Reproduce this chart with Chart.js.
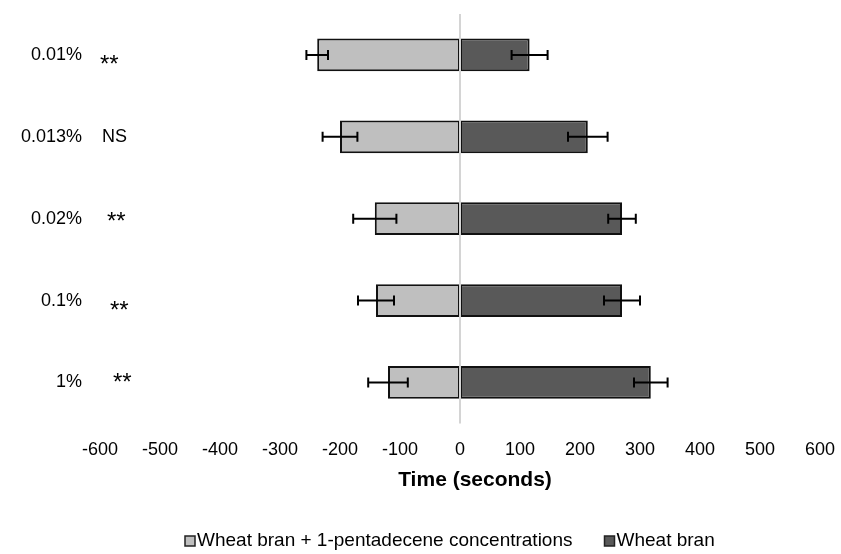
<!DOCTYPE html>
<html>
<head>
<meta charset="utf-8">
<script src="https://cdn.jsdelivr.net/npm/chart.js@4.4.1/dist/chart.umd.min.js"></script>
<style>
    html, body { margin: 0; padding: 0; background: #fff; }
    #wrap { width: 841px; height: 554px; }
</style>
</head>
<body>
<div id="wrap"><canvas id="chart"></canvas></div>
<script>
const categories = ['0.01%', '0.013%', '0.02%', '0.1%', '1%'];
const significance = ['**', 'NS', '**', '**', '**'];

const treatedLabel = 'Wheat bran + 1-pentadecene concentrations';
const treatedValues = [-238, -200, -142, -140, -120];
const treatedErrors = [18, 29, 36, 30, 33];

const controlLabel = 'Wheat bran';
const controlValues = [116, 213, 270, 270, 318];
const controlErrors = [30, 33, 23, 30, 28];

const xTicks = [-600, -500, -400, -300, -200, -100, 0, 100, 200, 300, 400, 500, 600];
const xTitle = 'Time (seconds)';

const FONT = "'Liberation Sans', Arial, sans-serif";

// error bars drawn on top of each bar end
const errorBars = {
    id: 'errorBars',
    afterDatasetsDraw(chart) {
        const { ctx, scales: { x } } = chart;
        ctx.save();
        ctx.strokeStyle = '#000';
        ctx.lineWidth = 2;
        chart.data.datasets.forEach((ds, i) => {
            const meta = chart.getDatasetMeta(i);
            meta.data.forEach((bar, j) => {
                const v = ds.data[j];
                const e = ds.errors[j];
                const x1 = x.getPixelForValue(v - e);
                const x2 = x.getPixelForValue(v + e);
                const y = bar.y;
                ctx.beginPath();
                ctx.moveTo(x1, y); ctx.lineTo(x2, y);
                ctx.moveTo(x1, y - 5); ctx.lineTo(x1, y + 5);
                ctx.moveTo(x2, y - 5); ctx.lineTo(x2, y + 5);
                ctx.stroke();
            });
        });
        ctx.restore();
    }
};

// zero line over the bars, significance marks, axis title and legend
const extras = {
    id: 'extras',
    afterDraw(chart) {
        const { ctx, chartArea, scales: { x, y } } = chart;
        ctx.save();

        const x0 = x.getPixelForValue(0);
        ctx.strokeStyle = '#d4d4d4';
        ctx.lineWidth = 2;
        ctx.beginPath();
        ctx.moveTo(x0, chartArea.top);
        ctx.lineTo(x0, chartArea.bottom);
        ctx.stroke();

        const dx = [0, 2, 7, 10, 13];
        const dy = [10, 0, 4, 11, 1];
        ctx.fillStyle = '#000';
        ctx.textAlign = 'left';
        ctx.textBaseline = 'middle';
        significance.forEach((s, i) => {
            ctx.font = (s === '**' ? '24px ' : '18px ') + FONT;
            ctx.fillText(s, chartArea.left + dx[i], y.getPixelForValue(i) + dy[i]);
        });

        ctx.font = 'bold 21px ' + FONT;
        ctx.textAlign = 'center';
        ctx.fillText(xTitle, x0 + 15, 480);

        ctx.font = '19px ' + FONT;
        ctx.textAlign = 'left';
        let lx = 185;
        const ly = 541;
        chart.data.datasets.forEach((ds) => {
            ctx.fillStyle = ds.backgroundColor;
            ctx.fillRect(lx, ly - 5, 10, 10);
            ctx.strokeStyle = '#222';
            ctx.lineWidth = 1.5;
            ctx.strokeRect(lx, ly - 5, 10, 10);
            ctx.fillStyle = '#000';
            ctx.fillText(ds.label, lx + 12, ly);
            lx += 12 + ctx.measureText(ds.label).width + 32;
        });
        ctx.restore();
    }
};

new Chart(document.getElementById('chart'), {
    type: 'bar',
    data: {
        labels: categories,
        datasets: [
            {
                label: treatedLabel,
                data: treatedValues,
                errors: treatedErrors,
                backgroundColor: '#bfbfbf',
                borderColor: '#111',
                borderWidth: 2,
                borderSkipped: false,
            },
            {
                label: controlLabel,
                data: controlValues,
                errors: controlErrors,
                backgroundColor: '#595959',
                borderColor: '#111',
                borderWidth: 2,
                borderSkipped: false,
            },
        ],
    },
    options: {
        indexAxis: 'y',
        responsive: true,
        maintainAspectRatio: false,
        animation: false,
        categoryPercentage: 0.8,
        barPercentage: 0.5,
        layout: { padding: { top: 14, right: 21, bottom: 77, left: 0 } },
        plugins: {
            legend: { display: false },
            tooltip: { enabled: false },
        },
        scales: {
            x: {
                stacked: true,
                min: -600,
                max: 600,
                afterBuildTicks: (scale) => { scale.ticks = xTicks.map(v => ({ value: v })); },
                afterFit: (scale) => { scale.paddingLeft = 0; scale.paddingRight = 0; },
                grid: { display: false, drawTicks: false },
                border: { display: false },
                ticks: {
                    color: '#000',
                    padding: 16,
                    maxRotation: 0,
                    autoSkip: false,
                    font: { family: FONT, size: 18 },
                },
            },
            y: {
                stacked: true,
                afterFit: (scale) => {
                    scale.width = 100;
                    scale.paddingTop = 0;
                    scale.paddingBottom = 0;
                },
                grid: { display: false, drawTicks: false },
                border: { display: false },
                ticks: {
                    color: '#000',
                    padding: 18,
                    font: { family: FONT, size: 18 },
                },
            },
        },
    },
    plugins: [errorBars, extras],
});
</script>
</body>
</html>
